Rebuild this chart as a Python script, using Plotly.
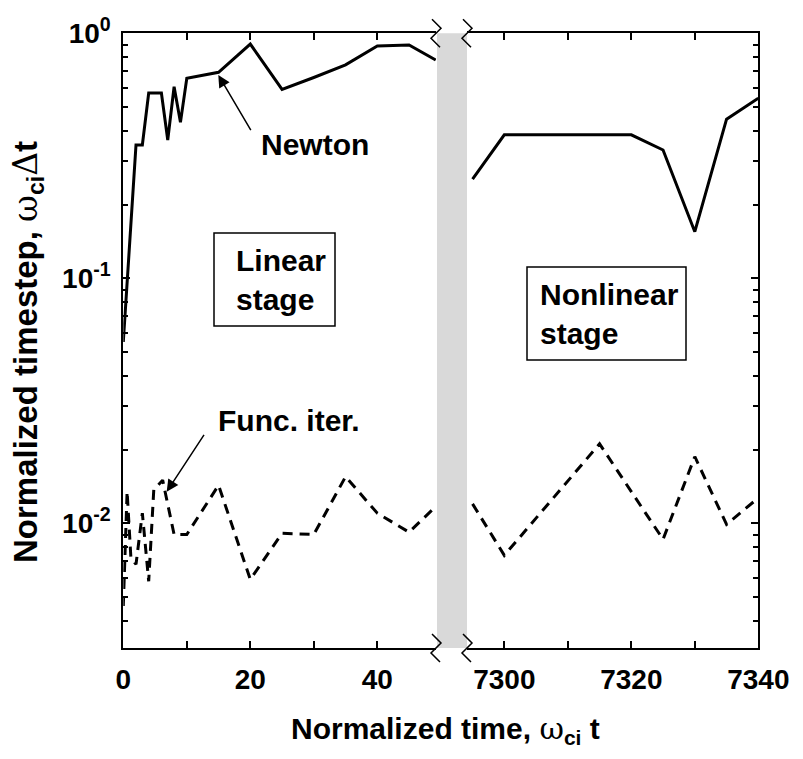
import plotly.graph_objects as go

W, H = 803, 759

# ---------------- data ----------------
newton_t_lin = [0, 2, 3, 4, 6, 7, 8, 9, 10, 15, 20, 25, 30, 35, 40, 45, 49.2]
newton_dt_lin = [0.055, 0.35, 0.35, 0.57, 0.57, 0.367, 0.605, 0.433, 0.655, 0.693,
                 0.904, 0.59, 0.66, 0.743, 0.887, 0.896, 0.778]
newton_t_non = [7295, 7300, 7320, 7325, 7330, 7335, 7340]
newton_dt_non = [0.254, 0.385, 0.385, 0.334, 0.155, 0.446, 0.543]

func_t_lin = [0, 0.6, 1.2, 2, 3, 4, 4.8, 6.2, 8, 10, 15, 20, 25, 30, 35, 40, 45, 49.2]
func_dt_lin = [0.0046, 0.0135, 0.0072, 0.0068, 0.0110, 0.0058, 0.0137, 0.0150, 0.0090,
               0.0090, 0.0143, 0.0059, 0.0091, 0.0090, 0.0155, 0.0110, 0.0092, 0.0117]
func_t_non = [7295, 7300, 7315, 7325, 7330, 7335, 7340]
func_dt_non = [0.0120, 0.0074, 0.0211, 0.0086, 0.0187, 0.0099, 0.0127]

x_lin_ticks = [0, 10, 20, 30, 40]
x_lin_text = ["0", "", "20", "", "40"]
x_non_ticks = [7300, 7310, 7320, 7330, 7340]
x_non_text = ["7300", "", "7320", "", "7340"]
y_ticks = [1, 0.1, 0.01]
y_text = ["10<sup>0</sup>", "10<sup>-1</sup>", "10<sup>-2</sup>"]
y_minor = [m * 10.0 ** e for e in (-3, -2, -1) for m in range(2, 10) if m * 10.0 ** e > 0.0031]

# ---------------- geometry (pixels) ----------------
PL, PR, PT, PB = 123.3, 758.3, 33.3, 648.0
BREAK_L, BREAK_R = 436.0, 467.0
PX_PER_UNIT = 6.35
DECADE = 245.0


def fx(px):
    return px / W


def fy(py):
    return 1 - py / H


x_lin_range = [0, (BREAK_L - PL) / PX_PER_UNIT]
x_non_range = [7340 - (PR - BREAK_R) / PX_PER_UNIT, 7340]
y_range = [-(PB - PT) / DECADE, 0]

FONT = "Liberation Sans"
black = "black"

fig = go.Figure()
fig.add_trace(go.Scatter(x=newton_t_lin, y=newton_dt_lin, xaxis="x", yaxis="y", mode="lines",
                         line=dict(color=black, width=3), showlegend=False))
fig.add_trace(go.Scatter(x=func_t_lin, y=func_dt_lin, xaxis="x", yaxis="y", mode="lines",
                         line=dict(color=black, width=3, dash="10px,7px"), showlegend=False))
fig.add_trace(go.Scatter(x=newton_t_non, y=newton_dt_non, xaxis="x2", yaxis="y2", mode="lines",
                         line=dict(color=black, width=3), showlegend=False))
fig.add_trace(go.Scatter(x=func_t_non, y=func_dt_non, xaxis="x2", yaxis="y2", mode="lines",
                         line=dict(color=black, width=3, dash="10px,7px"), showlegend=False))

ydom = [fy(PB), fy(PT)]
tickfont_x = dict(family=FONT, size=28, color=black, weight="bold")
tickfont_y = dict(family=FONT, size=28, color=black, weight="bold")

common_x = dict(showline=True, linecolor=black, linewidth=2, mirror="ticks", ticks="inside",
                ticklen=7, tickwidth=1.5, tickcolor=black, showgrid=False, zeroline=False,
                tickfont=tickfont_x, ticklabelstandoff=5, automargin=False)
minor = dict(ticks="inside", ticklen=5, tickwidth=1.5, tickcolor=black, tickvals=y_minor, showgrid=False)
common_y = dict(type="log", range=y_range, domain=ydom, showline=True, linecolor=black, linewidth=2,
                ticks="inside", ticklen=7, tickwidth=1.5, tickcolor=black, showgrid=False,
                zeroline=False, tickvals=y_ticks, minor=minor, automargin=False)

fig.update_layout(
    template="none",
    width=W, height=H, margin=dict(l=0, r=0, t=0, b=0, pad=0), autosize=False,
    paper_bgcolor="white", plot_bgcolor="rgba(0,0,0,0)",
    xaxis=dict(domain=[fx(PL), fx(BREAK_L)], range=x_lin_range, anchor="y",
               tickvals=x_lin_ticks, ticktext=x_lin_text, **common_x),
    xaxis2=dict(domain=[fx(BREAK_R), fx(PR)], range=x_non_range, anchor="y2",
                tickvals=x_non_ticks, ticktext=x_non_text, **common_x),
    yaxis=dict(anchor="x", side="left", ticktext=y_text, tickfont=tickfont_y,
               ticklabelstandoff=5, **common_y),
    yaxis2=dict(anchor="x2", side="right", showticklabels=False, **common_y),
)

shapes = []
# grey gap band
shapes.append(dict(type="rect", xref="paper", yref="paper", x0=fx(437), x1=fx(467),
                   y0=fy(PB), y1=fy(PT), fillcolor="#d9d9d9", line=dict(width=0), layer="below"))


def zig(cx, cy):
    pts = [(cx - 4, cy - 14), (cx + 5, cy - 5), (cx - 5, cy + 5), (cx + 4, cy + 14)]
    d = "M " + " L ".join(f"{fx(a):.5f},{fy(b):.5f}" for a, b in pts)
    return dict(type="path", xref="paper", yref="paper", path=d,
                line=dict(color=black, width=1.5), layer="above")


for cx in (BREAK_L, BREAK_R):
    for cy in (PT, PB):
        shapes.append(zig(cx, cy))

# text boxes
shapes.append(dict(type="rect", xref="paper", yref="paper", x0=fx(214), x1=fx(335),
                   y0=fy(326), y1=fy(233), line=dict(color=black, width=1.5), fillcolor="white"))
shapes.append(dict(type="rect", xref="paper", yref="paper", x0=fx(527), x1=fx(686),
                   y0=fy(360), y1=fy(267), line=dict(color=black, width=1.5), fillcolor="white"))
fig.update_layout(shapes=shapes)

afont = dict(family=FONT, size=30, color=black)
ann = []
ann.append(dict(text="<b>Linear<br>stage</b>", xref="paper", yref="paper", x=fx(234), y=fy(279.5),
                xanchor="left", yanchor="middle", align="left", showarrow=False, font=afont))
ann.append(dict(text="<b>Nonlinear<br>stage</b>", xref="paper", yref="paper", x=fx(538), y=fy(313.5),
                xanchor="left", yanchor="middle", align="left", showarrow=False, font=afont))
ann.append(dict(text="<b>Newton</b>", xref="paper", yref="paper", x=fx(315), y=fy(144),
                xanchor="center", yanchor="middle", showarrow=False, font=afont))
ann.append(dict(text="<b>Func. iter.</b>", xref="paper", yref="paper", x=fx(289), y=fy(420),
                xanchor="center", yanchor="middle", showarrow=False, font=afont))
# arrows
ann.append(dict(text="", xref="paper", yref="paper", x=fx(218.3), y=fy(75), ax=33.4, ay=56.7,
                showarrow=True, arrowhead=2, arrowsize=1.6, arrowwidth=1.5, arrowcolor=black))
ann.append(dict(text="", xref="paper", yref="paper", x=fx(166.7), y=fy(491.7), ax=38.3, ay=-58.4,
                showarrow=True, arrowhead=2, arrowsize=1.6, arrowwidth=1.5, arrowcolor=black))
# axis titles
ann.append(dict(text="<b>Normalized time, </b><span style='font-family:DejaVu Serif;font-weight:normal'>ω</span><sub><b>ci</b></sub><b> t</b>",
                xref="paper", yref="paper", x=fx(445), y=fy(730), xanchor="center", yanchor="middle",
                showarrow=False, font=afont))
ann.append(dict(text="<b>Normalized timestep, </b><span style='font-family:DejaVu Serif;font-weight:normal'>ω</span><sub><b>ci</b></sub><span style='font-family:DejaVu Serif;font-weight:normal'>Δ</span><b>t</b>",
                xref="paper", yref="paper", x=fx(27), y=fy(352), xanchor="center", yanchor="middle",
                textangle=-90, showarrow=False, font=dict(family=FONT, size=33, color=black)))
fig.update_layout(annotations=ann)

fig.write_html("out.html")
